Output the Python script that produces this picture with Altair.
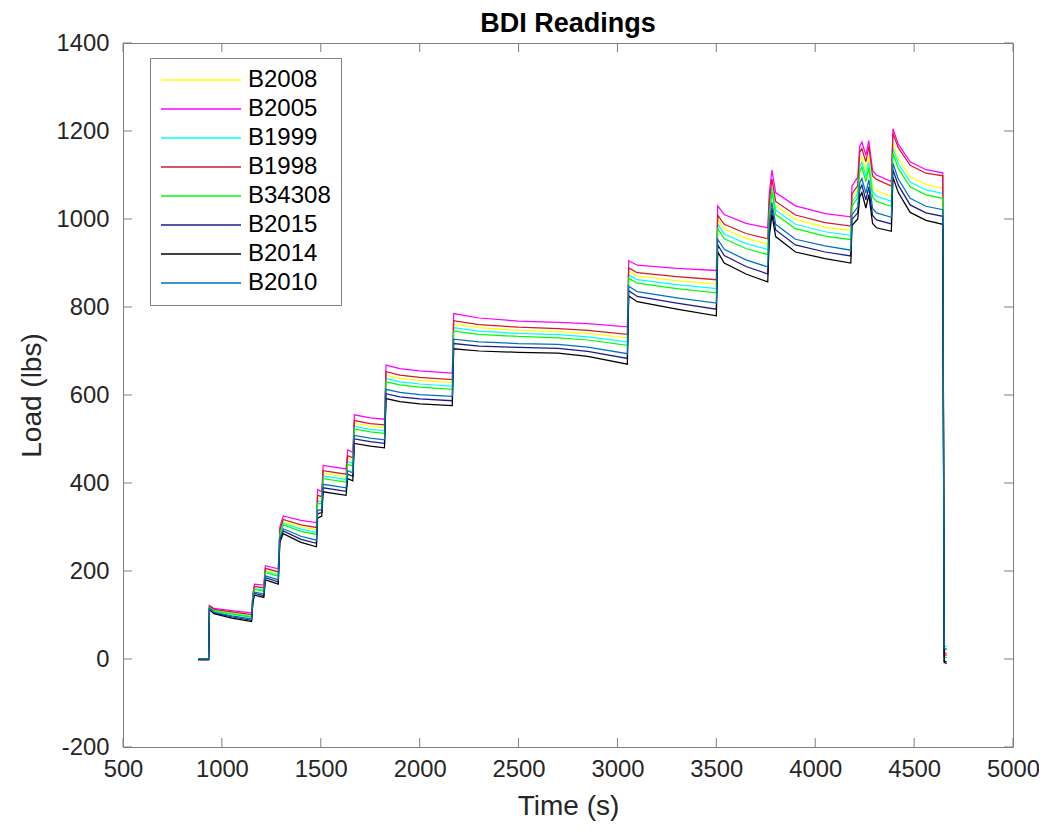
import altair as alt
import pandas as pd

time_s = [880, 933, 937, 960, 1050, 1150, 1157, 1165, 1212, 1220, 1285, 1293, 1310, 1400, 1478, 1484,
          1505, 1512, 1628, 1636, 1662, 1670, 1750, 1822, 1830, 1900, 2000, 2165, 2172, 2300, 2500, 2700,
          2850, 3050, 3057, 3100, 3300, 3500, 3507, 3540, 3650, 3760, 3768, 3781, 3800, 3900, 4050, 4180,
          4186, 4215, 4225, 4236, 4256, 4271, 4290, 4310, 4385, 4393, 4420, 4480, 4560, 4645, 4652, 4665]

series_names = ["B2008", "B2005", "B1999", "B1998", "B34308", "B2015", "B2014", "B2010"]
series_colors = ["#FFFF00", "#FF00FF", "#00FFFF", "#D41A2A", "#00FF00", "#1A1A8C", "#000000", "#0072BD"]

b2008 = [0, 0, 119, 111, 105, 99, 144, 163, 160, 202, 195, 290, 313, 300, 294, 366, 364, 422, 414, 456, 451,
         536, 529, 526, 645, 638, 633, 628, 761, 753, 747, 744, 740, 730, 881, 870, 860, 852, 999, 977, 956,
         943, 1030, 1081, 1030, 999, 981, 974, 1048, 1067, 1131, 1141, 1109, 1141, 1074, 1064, 1051, 1172,
         1137, 1096, 1078, 1070, 20, 18]
b2005 = [0, 0, 122, 115, 110, 105, 150, 170, 168, 212, 205, 300, 325, 315, 310, 385, 380, 440, 432, 475, 470,
         555, 548, 545, 668, 660, 655, 650, 785, 775, 768, 765, 762, 755, 905, 895, 888, 883, 1030, 1010, 990,
         980, 1060, 1111, 1060, 1030, 1012, 1005, 1075, 1095, 1165, 1175, 1145, 1178, 1110, 1100, 1085, 1205,
         1170, 1130, 1112, 1105, 15, 12]
b1999 = [0, 0, 118, 110, 103, 97, 142, 160, 157, 199, 191, 286, 309, 295, 288, 359, 358, 416, 408, 449, 444,
         529, 522, 519, 638, 630, 625, 620, 753, 745, 740, 737, 732, 721, 873, 862, 851, 842, 988, 966, 944,
         931, 1020, 1071, 1020, 988, 971, 963, 1039, 1057, 1119, 1129, 1097, 1129, 1062, 1052, 1040, 1161,
         1126, 1084, 1066, 1058, 30, 28]
b1998 = [0, 0, 120, 113, 107, 101, 146, 165, 162, 206, 198, 293, 317, 305, 299, 372, 369, 428, 420, 462, 457,
         542, 535, 532, 653, 645, 640, 635, 769, 760, 754, 751, 747, 738, 889, 878, 869, 862, 1009, 988, 967,
         955, 1040, 1091, 1040, 1009, 992, 984, 1057, 1076, 1152, 1160, 1130, 1165, 1098, 1090, 1075, 1195,
         1162, 1122, 1104, 1098, 10, 8]
b34308 = [0, 0, 117, 109, 102, 95, 140, 158, 154, 196, 188, 283, 305, 290, 283, 353, 353, 410, 402, 443, 438,
          523, 516, 513, 630, 623, 618, 613, 745, 738, 733, 730, 725, 713, 865, 854, 842, 832, 978, 955, 933,
          919, 1010, 1061, 1010, 978, 961, 953, 1030, 1048, 1108, 1118, 1085, 1117, 1050, 1040, 1029, 1150,
          1115, 1073, 1055, 1047, 5, 3]
b2015 = [0, 0, 114, 105, 96, 88, 133, 149, 144, 185, 175, 270, 291, 272, 263, 330, 333, 389, 381, 420, 415,
         500, 494, 490, 603, 596, 591, 587, 717, 711, 708, 706, 699, 683, 837, 824, 809, 795, 941, 917, 892,
         875, 975, 1025, 975, 941, 925, 916, 999, 1014, 1067, 1077, 1043, 1073, 1008, 998, 989, 1112, 1077,
         1032, 1014, 1006, -5, -6]
b2014 = [-2, -2, 112, 103, 93, 85, 130, 145, 140, 180, 170, 265, 285, 265, 255, 320, 325, 380, 372, 410, 405,
         490, 484, 480, 592, 585, 580, 576, 705, 700, 697, 695, 688, 670, 825, 812, 795, 780, 925, 900, 875,
         857, 960, 1010, 960, 925, 910, 900, 985, 1000, 1050, 1060, 1025, 1055, 990, 980, 972, 1095, 1060,
         1015, 997, 988, -8, -10]
b2010 = [0, 0, 115, 106, 98, 91, 136, 152, 148, 189, 180, 275, 296, 279, 270, 338, 340, 397, 389, 428, 423,
         508, 502, 498, 613, 606, 601, 597, 727, 721, 717, 715, 709, 694, 847, 835, 821, 809, 954, 931, 907,
         891, 988, 1038, 988, 954, 939, 929, 1010, 1027, 1082, 1092, 1059, 1089, 1024, 1014, 1004, 1126,
         1091, 1047, 1029, 1021, 25, 22]

x_ticks = [500, 1000, 1500, 2000, 2500, 3000, 3500, 4000, 4500, 5000]
y_ticks = [-200, 0, 200, 400, 600, 800, 1000, 1200, 1400]

series_values = [b2008, b2005, b1999, b1998, b34308, b2015, b2014, b2010]
rows = []
for k, (name, vals) in enumerate(zip(series_names, series_values)):
    for t, v in zip(time_s, vals):
        rows.append({"series": name, "k": k, "time": t, "load": v})
df = pd.DataFrame(rows)
xt_df = pd.DataFrame({"time": x_ticks})
yt_df = pd.DataFrame({"load": y_ticks})

W, H = 890, 704
FONT = "Liberation Sans"
FRAME = "#7f7f7f"
TL = 9
PLAIN = "'' + datum.value"

xscale = alt.Scale(domain=[500, 5000], nice=False, zero=False)
yscale = alt.Scale(domain=[-200, 1400], nice=False, zero=False)

xaxis = alt.Axis(title="Time (s)", values=x_ticks, labelExpr=PLAIN, ticks=False, tickSize=0, domain=False,
                 grid=False, labelFlush=False, labelPadding=10, titlePadding=12, labelFontSize=23.8,
                 titleFontSize=28)
yaxis = alt.Axis(title="Load (lbs)", values=y_ticks, labelExpr=PLAIN, ticks=False, tickSize=0, domain=False,
                 grid=False, labelFlush=False, labelPadding=14, titlePadding=10, labelFontSize=23.8,
                 titleFontSize=28)

legend = alt.Legend(
    title=None, orient="none", legendX=27, legendY=15,
    symbolType="M-4,0H4", symbolSize=400, symbolStrokeWidth=1.3, symbolOffset=29,
    labelFont=FONT, labelFontSize=24, labelColor="#000000", labelOffset=35,
    rowPadding=5, padding=10, strokeColor=FRAME, fillColor="#ffffff",
)

lines = alt.Chart(df).mark_line(strokeWidth=1.25).encode(
    x=alt.X("time:Q", scale=xscale, axis=xaxis),
    y=alt.Y("load:Q", scale=yscale, axis=yaxis),
    color=alt.Color("series:N", scale=alt.Scale(domain=series_names, range=series_colors), legend=legend),
    detail="k:O",
)

bottom_ticks = alt.Chart(xt_df).mark_rule(color=FRAME, strokeWidth=1).encode(
    x=alt.X("time:Q", scale=xscale), y=alt.value(H), y2=alt.value(H - TL))
top_ticks = alt.Chart(xt_df).mark_rule(color=FRAME, strokeWidth=1).encode(
    x=alt.X("time:Q", scale=xscale), y=alt.value(0), y2=alt.value(TL))
left_ticks = alt.Chart(yt_df).mark_rule(color=FRAME, strokeWidth=1).encode(
    y=alt.Y("load:Q", scale=yscale), x=alt.value(0), x2=alt.value(TL))
right_ticks = alt.Chart(yt_df).mark_rule(color=FRAME, strokeWidth=1).encode(
    y=alt.Y("load:Q", scale=yscale), x=alt.value(W), x2=alt.value(W - TL))

chart = alt.layer(bottom_ticks, top_ticks, left_ticks, right_ticks, lines).properties(
    width=W, height=H,
    title=alt.TitleParams("BDI Readings", font=FONT, fontSize=27, fontWeight="bold", color="#000000",
                          anchor="middle", offset=0, dy=7),
    autosize=alt.AutoSizeParams(type="none"),
    padding={"left": 115, "top": 35, "right": 26, "bottom": 80},
).configure_view(
    stroke=FRAME, strokeWidth=1
).configure_axis(
    labelFont=FONT, titleFont=FONT, labelColor="#262626", titleColor="#262626", titleFontWeight="normal"
)

chart.save("out.html", embed_options={"renderer": "svg", "actions": False})
